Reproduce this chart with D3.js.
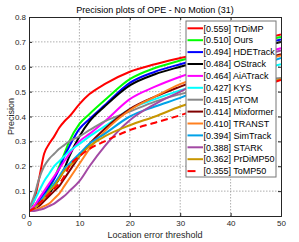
<!DOCTYPE html>
<html><head><meta charset="utf-8">
<script src="https://cdn.jsdelivr.net/npm/d3@7"></script>
<style>
html,body{margin:0;padding:0;background:#fff;}
svg{display:block;font-family:"Liberation Sans",Arial,Helvetica,sans-serif;}
</style></head>
<body><svg id="c" width="299" height="242"></svg>
<script>
// ---- data ----
const thresholds = [0,1,2,3,4,5,6,7,8,10,12,15,20,25,30,40,50];
const trackerNames = ["TrDiMP","Ours","HDETrack","OStrack","AiATrack","KYS","ATOM","Mixformer","TRANST","SimTrack","STARK","PrDiMP50","ToMP50"];
const trackerScores = [0.559,0.510,0.494,0.484,0.464,0.427,0.415,0.414,0.410,0.394,0.388,0.362,0.355];
const trdimp    = [0.03,0.06,0.15,0.25,0.29,0.32,0.355,0.38,0.40,0.45,0.49,0.53,0.58,0.61,0.635,0.68,0.73];
const ours      = [0.02,0.03,0.05,0.08,0.11,0.15,0.20,0.25,0.30,0.37,0.41,0.465,0.55,0.595,0.625,0.675,0.72];
const hdetrack  = [0.02,0.03,0.06,0.09,0.12,0.15,0.19,0.24,0.28,0.35,0.39,0.445,0.535,0.58,0.61,0.66,0.71];
const ostrack   = [0.02,0.03,0.05,0.07,0.09,0.12,0.15,0.19,0.24,0.32,0.38,0.44,0.525,0.57,0.60,0.65,0.70];
const aiatrack  = [0.02,0.04,0.07,0.10,0.13,0.16,0.19,0.22,0.25,0.30,0.33,0.38,0.47,0.52,0.56,0.62,0.675];
const kys       = [0.03,0.06,0.10,0.14,0.17,0.20,0.22,0.24,0.26,0.29,0.32,0.36,0.43,0.47,0.505,0.56,0.61];
const atom      = [0.03,0.08,0.15,0.20,0.23,0.25,0.27,0.285,0.30,0.32,0.345,0.38,0.42,0.46,0.49,0.53,0.555];
const mixformer = [0.02,0.03,0.04,0.06,0.08,0.10,0.12,0.15,0.18,0.24,0.29,0.35,0.43,0.48,0.52,0.59,0.65];
const transt    = [0.02,0.025,0.03,0.04,0.05,0.07,0.09,0.12,0.15,0.21,0.27,0.34,0.425,0.48,0.53,0.59,0.645];
const simtrack  = [0.02,0.03,0.05,0.08,0.10,0.13,0.16,0.19,0.21,0.25,0.29,0.33,0.40,0.44,0.475,0.56,0.635];
const stark     = [0.02,0.02,0.025,0.03,0.04,0.05,0.065,0.08,0.10,0.14,0.20,0.28,0.385,0.45,0.50,0.60,0.665];
const prdimp50  = [0.02,0.03,0.05,0.07,0.10,0.12,0.15,0.18,0.20,0.24,0.28,0.32,0.365,0.40,0.44,0.50,0.55];
const tomp50    = [0.02,0.03,0.05,0.07,0.09,0.11,0.13,0.16,0.20,0.24,0.27,0.30,0.345,0.375,0.405,0.48,0.547];
const xTicks = [0,10,20,30,40,50];
const yTicks = [0,0.1,0.2,0.3,0.4,0.5,0.6,0.7,0.8];
const titleText = "Precision plots of OPE - No Motion (31)";
const xLabel = "Location error threshold";
const yLabel = "Precision";

const seriesValues = [trdimp,ours,hdetrack,ostrack,aiatrack,kys,atom,mixformer,transt,simtrack,stark,prdimp50,tomp50];
const colors = ["#ff0000","#00ff00","#0000ff","#000000","#ff00ff","#00ffff","#888888","#800000","#ff8020","#00a2e8","#a349a4","#c89600","#ff0000"];
const dashes = [null,null,null,null,null,null,null,null,null,null,null,null,"7,4"];

// ---- layout ----
const L = 29, R = 281, T = 17, B = 216;
const svg = d3.select("#c");
const x = d3.scaleLinear().domain([0,50]).range([L,R]);
const y = d3.scaleLinear().domain([0,0.8]).range([B,T]);

svg.append("rect").attr("x",L).attr("y",T).attr("width",R-L).attr("height",B-T).attr("fill","#fff");

// grid
const grid = svg.append("g").attr("stroke","#999").attr("stroke-width",0.8).attr("stroke-dasharray","1.5,1.5");
xTicks.filter(d=>d>0&&d<50).forEach(d=>grid.append("line").attr("x1",x(d)).attr("x2",x(d)).attr("y1",T).attr("y2",B));
yTicks.filter(d=>d>0&&d<0.8).forEach(d=>grid.append("line").attr("y1",y(d)).attr("y2",y(d)).attr("x1",L).attr("x2",R));

// curves
svg.append("clipPath").attr("id","pc").append("rect").attr("x",L).attr("y",T).attr("width",R-L).attr("height",B-T);
const line = d3.line().x((d,i)=>x(thresholds[i])).y(d=>y(d)).curve(d3.curveMonotoneX);
const cg = svg.append("g").attr("clip-path","url(#pc)");
seriesValues.forEach((vals,i)=>{
  cg.append("path").attr("d",line(vals)).attr("fill","none").attr("stroke",colors[i])
    .attr("stroke-width",2).attr("stroke-dasharray",dashes[i]);
});

// axes
const axB = d3.axisBottom(x).tickValues(xTicks).tickSize(-3).tickPadding(4).tickFormat(d3.format("d"));
const axL = d3.axisLeft(y).tickValues(yTicks).tickSize(-3).tickPadding(3).tickFormat(d=>d===0?"0":d3.format(".1f")(d));
const axT = d3.axisTop(x).tickValues(xTicks).tickSize(-3).tickFormat("");
const axR = d3.axisRight(y).tickValues(yTicks).tickSize(-3).tickFormat("");
function style(g){ g.selectAll("path,line").attr("stroke","#262626"); g.selectAll("text").attr("fill","#262626").attr("font-size","8px").attr("font-family","Liberation Sans, Arial, sans-serif"); }
svg.append("g").attr("transform",`translate(0,${B})`).call(axB).call(style);
svg.append("g").attr("transform",`translate(${L},0)`).call(axL).call(style);
svg.append("g").attr("transform",`translate(0,${T})`).call(axT).call(style);
svg.append("g").attr("transform",`translate(${R},0)`).call(axR).call(style);
svg.selectAll(".domain").attr("stroke-width",1);

// labels
svg.append("text").attr("x",(L+R)/2).attr("y",13).attr("text-anchor","middle").attr("font-size","9px").attr("fill","#000").text(titleText);
svg.append("text").attr("x",(L+R)/2).attr("y",238).attr("text-anchor","middle").attr("font-size","9px").attr("fill","#262626").text(xLabel);
svg.append("text").attr("transform",`translate(13.5,${(T+B)/2}) rotate(-90)`).attr("text-anchor","middle").attr("font-size","9px").attr("fill","#262626").text(yLabel);

// legend
const lg = svg.append("g");
const lx = 186, ly = 21, lw = 90, rowH = 11.9;
lg.append("rect").attr("x",lx).attr("y",ly).attr("width",lw).attr("height",156).attr("fill","#fff").attr("stroke","#777").attr("stroke-width",1);
trackerNames.forEach((n,i)=>{
  const yy = ly + 7.3 + i*rowH;
  lg.append("line").attr("x1",lx+1.5).attr("x2",lx+17).attr("y1",yy).attr("y2",yy).attr("stroke",colors[i]).attr("stroke-width",2).attr("stroke-dasharray",dashes[i]?"8,9":null);
  lg.append("text").attr("x",lx+17.5).attr("y",yy+3.2).attr("font-size","9px").attr("fill","#000").text(`[${trackerScores[i].toFixed(3)}] ${n}`);
});
</script></body></html>
